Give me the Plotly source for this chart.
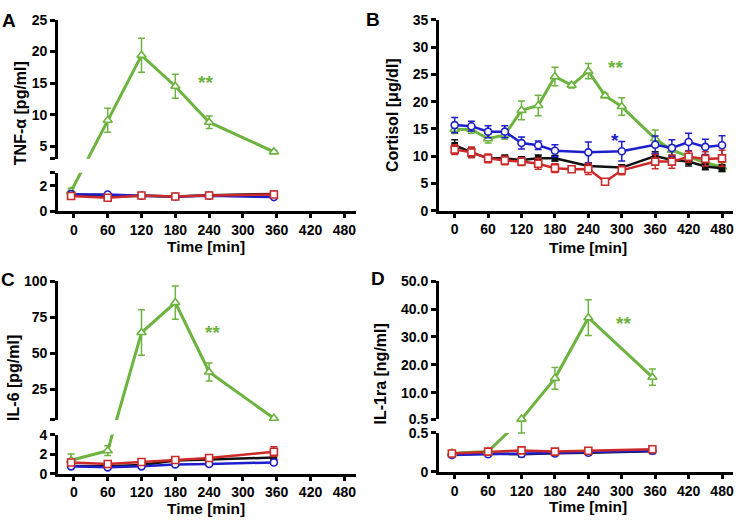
import plotly.graph_objects as go

W, H = 736, 526
GREEN, BLUE, RED, BLACK = "#6cb33f", "#1e1ecc", "#cc2a2a", "#111111"
FAM = "Liberation Sans"

# ---------------- data ----------------
x_ticks = [0, 60, 120, 180, 240, 300, 360, 420, 480]
x_ticktext = ["0", "60", "120", "180", "240", "300", "360", "420", "480"]

# Panel A: TNF-alpha [pg/ml]
time_a = [-5, 60, 120, 180, 240, 355]
tnf_green = [1.55, 9.1, 19.4, 14.5, 8.8, 4.1]
tnf_green_err = [0.25, 1.9, 2.7, 1.9, 1.0, 0.2]
tnf_black = [1.22, 1.12, 1.2, 1.15, 1.25, 1.35]
tnf_black_err = [0.06, 0.05, 0.05, 0.05, 0.06, 0.08]
tnf_blue = [1.33, 1.3, 1.2, 1.15, 1.2, 1.1]
tnf_blue_err = [0.08, 0.06, 0.05, 0.05, 0.05, 0.06]
tnf_red = [1.18, 1.05, 1.22, 1.15, 1.22, 1.3]
tnf_red_err = [0.06, 0.06, 0.05, 0.05, 0.05, 0.08]

# Panel B: Cortisol [ug/dl]
time_b = [0, 30, 60, 90, 120, 150, 180, 210, 240, 270, 300, 360, 390, 420, 450, 480]
cort_green = [14.95, 14.9, 13.2, 13.9, 18.4, 19.3, 24.6, 23.0, 25.6, 21.1, 19.1, 13.2, 11.1, 10.0, 8.8, 8.0]
cort_green_err = [0.8, 0.7, 0.8, 0.8, 1.7, 1.9, 1.7, 0.5, 1.4, 0.4, 1.6, 1.6, 1.0, 1.0, 0.8, 0.8]
cort_black = [12.0, 10.7, 9.6, 9.6, 9.3, 9.6, 9.6, None, 8.2, None, 7.9, 10.0, 9.3, 9.0, 8.1, 7.8]
cort_black_err = [1.0, 0.8, 0.6, 0.6, 0.6, 0.6, 0.5, None, 0.6, None, 0.5, 0.8, 0.8, 0.8, 0.6, 0.6]
cort_blue = [15.7, 15.5, 14.5, 14.5, 12.4, 12.0, 11.0, None, 10.7, None, 10.9, 12.1, 11.5, 12.6, 11.7, 12.0]
cort_blue_err = [1.4, 0.9, 1.1, 1.1, 1.1, 0.8, 1.1, None, 1.9, None, 1.8, 1.6, 1.5, 1.6, 1.4, 1.75]
cort_red = [11.2, 10.7, 9.6, 9.2, 9.0, 8.6, 7.8, 7.6, 7.65, 5.3, 7.4, 9.0, 9.0, 9.9, 9.5, 9.6]
cort_red_err = [0.9, 1.0, 0.8, 0.8, 0.7, 1.0, 0.8, 0.3, 1.0, 0.3, 0.8, 1.3, 1.2, 1.0, 1.3, 1.5]

# Panel C: IL-6 [pg/ml]
time_c = [-5, 60, 120, 180, 240, 355]
il6_green = [1.37, 2.35, 64.5, 85.3, 37.2, 5.1]
il6_green_err = [0.65, 0.5, 15.8, 11.5, 6.2, 0.3]
il6_black = [0.8, 0.75, 0.9, 1.35, 1.45, 1.65]
il6_black_err = [0.1, 0.1, 0.1, 0.3, 0.2, 0.2]
il6_blue = [0.75, 0.65, 0.75, 0.95, 1.0, 1.15]
il6_blue_err = [0.08, 0.08, 0.08, 0.1, 0.1, 0.12]
il6_red = [1.15, 1.0, 1.2, 1.4, 1.6, 2.25]
il6_red_err = [0.15, 0.1, 0.15, 0.2, 0.3, 0.5]

# Panel D: IL-1ra [ng/ml]
time_d = [-5, 60, 120, 180, 240, 355]
il1ra_green = [0.24, 0.26, 0.6, 15.2, 36.9, 15.6]
il1ra_green_err = [0.01, 0.01, 0.1, 3.9, 6.4, 2.9]
il1ra_black = [0.225, 0.235, 0.225, 0.24, 0.245, 0.265]
il1ra_black_err = [0.005, 0.005, 0.005, 0.005, 0.005, 0.005]
il1ra_blue = [0.215, 0.225, 0.23, 0.235, 0.245, 0.27]
il1ra_blue_err = [0.005, 0.005, 0.005, 0.005, 0.005, 0.005]
il1ra_red = [0.235, 0.26, 0.275, 0.26, 0.27, 0.29]
il1ra_red_err = [0.005, 0.005, 0.005, 0.005, 0.005, 0.008]

# y ticks (lower / upper segment of broken axes)
a_ticks_lo, a_text_lo = [0, 2, 3], ["0", "2", ""]
a_ticks_hi, a_text_hi = [3, 5, 10, 15, 20, 25], ["", "5", "10", "15", "20", "25"]
b_ticks, b_text = [0, 5, 10, 15, 20, 25, 30, 35], ["0", "5", "10", "15", "20", "25", "30", "35"]
c_ticks_lo, c_text_lo = [0, 2, 4], ["0", "2", "4"]
c_ticks_hi, c_text_hi = [4, 25, 50, 75, 100], ["", "25", "50", "75", "100"]
d_ticks_lo, d_text_lo = [0, 0.5], ["0", "0.5"]
d_ticks_hi, d_text_hi = [0.5, 10, 20, 30, 40, 50], ["0.5", "10.0", "20.0", "30.0", "40.0", "50.0"]

# ---------------- geometry (window pixels) ----------------
XR = [-28, 500]
# each broken panel: lower segment axis, upper segment axis, full-height axis for markers
panels = {
    "A": dict(x="x", lo="y", hi="y2", full="y3", px0=74.0, px480=344.8, ybot=209.5,
              ylotop=170.0, yhibot=155.5, ytop=12.4, brk=3, ymax=25),
    "C": dict(x="x2", lo="y4", hi="y5", full="y6", px0=74.0, px480=344.8, ybot=480.3,
              ylotop=440.0, yhibot=424.8, ytop=281.9, brk=4, ymax=100),
    "D": dict(x="x3", lo="y7", hi="y8", full="y9", px0=455.3, px480=723.0, ybot=478.3,
              ylotop=438.3, yhibot=424.3, ytop=281.7, brk=0.5, ymax=50),
    "B": dict(x="x4", lo="y10", hi=None, full=None, px0=455.3, px480=723.0, ybot=209.0,
              ytop=12.3, brk=None, ymax=35),
}


def fx(px):
    return px / W


def fy(py):
    return 1 - py / H


def tf(p, v, seg=None):
    """Map a data value to the broken-axis display coordinate (pixels above 0)."""
    if v is None:
        return None
    if p["brk"] is None:
        return v
    low = p["ybot"] - p["ylotop"]
    hib = p["ybot"] - p["yhibot"]
    top = p["yhibot"] - p["ytop"]
    if seg is None:
        seg = "lo" if v <= p["brk"] else "hi"
    if seg == "lo":
        return v / p["brk"] * low
    return hib + (v - p["brk"]) / (p["ymax"] - p["brk"]) * top


fig = go.Figure()

series = {
    "A": (time_a, [(tnf_green, tnf_green_err), (tnf_black, tnf_black_err),
                   (tnf_blue, tnf_blue_err), (tnf_red, tnf_red_err)]),
    "B": (time_b, [(cort_green, cort_green_err), (cort_black, cort_black_err),
                   (cort_blue, cort_blue_err), (cort_red, cort_red_err)]),
    "C": (time_c, [(il6_green, il6_green_err), (il6_black, il6_black_err),
                   (il6_blue, il6_blue_err), (il6_red, il6_red_err)]),
    "D": (time_d, [(il1ra_green, il1ra_green_err), (il1ra_black, il1ra_black_err),
                   (il1ra_blue, il1ra_blue_err), (il1ra_red, il1ra_red_err)]),
}
styles = [(GREEN, "triangle-up", "white", 3.0, 8),
          (BLACK, "square", BLACK, 2.5, 5),
          (BLUE, "circle", "white", 2.5, 7),
          (RED, "square", "white", 2.5, 7)]

for pk, (t, lst) in series.items():
    p = panels[pk]
    for (y, e), (c, sym, fill, lw, ms) in zip(lst, styles):
        yd = [tf(p, v) for v in y]
        up = [None if v is None else tf(p, v + d) - tf(p, v) for v, d in zip(y, e)]
        dn = [None if v is None else tf(p, v) - tf(p, v - d) for v, d in zip(y, e)]
        mk = dict(symbol=sym, size=ms, color=fill, line=dict(color=c, width=1.6))
        eb = dict(type="data", array=up, arrayminus=dn, color=c, thickness=1.5, width=3.5)
        if p["hi"] is None:
            fig.add_trace(go.Scatter(x=t, y=yd, mode="lines+markers", connectgaps=True,
                                     line=dict(color=c, width=lw), marker=mk, error_y=eb,
                                     xaxis=p["x"], yaxis=p["lo"], showlegend=False,
                                     hoverinfo="skip"))
        else:
            # the connecting line, clipped separately by each axis segment (leaves the break empty)
            for seg in ("lo", "hi"):
                fig.add_trace(go.Scatter(x=t, y=yd, mode="lines", connectgaps=True,
                                         line=dict(color=c, width=lw), xaxis=p["x"],
                                         yaxis=p[seg], showlegend=False, hoverinfo="skip"))
            # markers and error bars on the full-height axis
            fig.add_trace(go.Scatter(x=t, y=yd, mode="markers", marker=mk, error_y=eb,
                                     xaxis=p["x"], yaxis=p["full"], showlegend=False,
                                     hoverinfo="skip"))

tickfont = dict(family=FAM, size=14, color="black", weight="bold")
ticks_y = {
    "A": (a_ticks_lo, a_text_lo, a_ticks_hi, a_text_hi),
    "C": (c_ticks_lo, c_text_lo, c_ticks_hi, c_text_hi),
    "D": (d_ticks_lo, d_text_lo, d_ticks_hi, d_text_hi),
}
layout = dict(width=W, height=H, margin=dict(l=0, r=0, t=0, b=0),
              paper_bgcolor="white", plot_bgcolor="rgba(0,0,0,0)", showlegend=False)


def yaxis_base(dom, anchor):
    return dict(domain=dom, ticks="outside", ticklen=5, tickwidth=2.5, tickcolor="black",
                showline=True, linewidth=3, linecolor="black", showgrid=False, zeroline=False,
                tickfont=tickfont, anchor=anchor, fixedrange=True, tickmode="array")


for pk, p in panels.items():
    s = (p["px480"] - p["px0"]) / 480.0
    xl = p["px0"] + XR[0] * s
    xr = p["px0"] + XR[1] * s
    layout["xaxis" + p["x"][1:]] = dict(
        domain=[fx(xl), fx(xr)], range=XR, tickmode="array", tickvals=x_ticks,
        ticktext=x_ticktext, ticks="outside", ticklen=4, tickwidth=2.5, tickcolor="black",
        showline=True, linewidth=3, linecolor="black", showgrid=False, zeroline=False,
        tickfont=tickfont, anchor=p["lo"], fixedrange=True)
    if p["brk"] is None:
        ya = yaxis_base([fy(p["ybot"]), fy(p["ytop"])], p["x"])
        ya.update(range=[0, p["ymax"]], tickvals=b_ticks, ticktext=b_text)
        layout["yaxis" + p["lo"][1:]] = ya
    else:
        tlo, txlo, thi, txhi = ticks_y[pk]
        low = p["ybot"] - p["ylotop"]
        hib = p["ybot"] - p["yhibot"]
        total = p["ybot"] - p["ytop"]
        ylo = yaxis_base([fy(p["ybot"]), fy(p["ylotop"])], p["x"])
        ylo.update(range=[0, low], tickvals=[tf(p, v, "lo") for v in tlo], ticktext=txlo)
        yhi = yaxis_base([fy(p["yhibot"]), fy(p["ytop"])], p["x"])
        yhi.update(range=[hib, total], tickvals=[tf(p, v, "hi") for v in thi], ticktext=txhi)
        yfull = dict(domain=[fy(p["ybot"]), fy(p["ytop"])], range=[0, total], visible=False,
                     anchor=p["x"], fixedrange=True, showgrid=False, zeroline=False)
        layout["yaxis" + p["lo"][1:]] = ylo
        layout["yaxis" + p["hi"][1:]] = yhi
        layout["yaxis" + p["full"][1:]] = yfull

fig.update_layout(**layout)

# ---------------- text ----------------
tfont = dict(family=FAM, size=15.5, color="black", weight="bold")
yfont = dict(family=FAM, size=16, color="black", weight="bold")
lfont = dict(family=FAM, size=19, color="black", weight="bold")
ann = []


def pa(x, y, text, font, angle=0):
    ann.append(dict(x=fx(x), y=fy(y), xref="paper", yref="paper", text=text, showarrow=False,
                    font=font, textangle=angle, xanchor="center", yanchor="middle"))


pa(206.3, 246.0, "Time [min]", tfont)
pa(589.0, 246.5, "Time [min]", tfont)
pa(206.3, 516.5, "Time [min]", tfont)
pa(589.0, 514.0, "Time [min]", tfont)
pa(20.0, 108.5, "TNF-α [pg/ml]", yfont, -90)
pa(393.0, 110.0, "Cortisol [μg/dl]", yfont, -90)
pa(13.5, 381.0, "IL-6 [pg/ml]", yfont, -90)
pa(381.0, 377.5, "IL-1ra [ng/ml]", yfont, -90)
pa(9.0, 12.6, "A", lfont)
pa(374.0, 11.7, "B", lfont)
pa(8.5, 280.2, "C", lfont)
pa(379.0, 279.2, "D", lfont)

# significance marks (x in min, y in data units)
stars = [("A", 233.8, 15.9, "**", GREEN), ("B", 288.7, 27.1, "**", GREEN),
         ("B", 288.7, 13.7, "*", BLUE), ("C", 245.6, 68.0, "**", GREEN),
         ("D", 303.7, 36.7, "**", GREEN)]
for pk, sx, sy, txt, col in stars:
    p = panels[pk]
    ann.append(dict(x=sx, y=tf(p, sy), xref=p["x"], yref=p["full"] or p["lo"], text=txt,
                    showarrow=False, yshift=-5,
                    font=dict(family=FAM, size=19, color=col, weight="bold")))

fig.update_layout(annotations=ann)
# remove the page's default 8px body margin so the chart fills the window exactly
fig.write_html("out.html", config={"displayModeBar": False},
               post_script="document.body.style.margin='0';document.body.style.overflow='hidden';")
